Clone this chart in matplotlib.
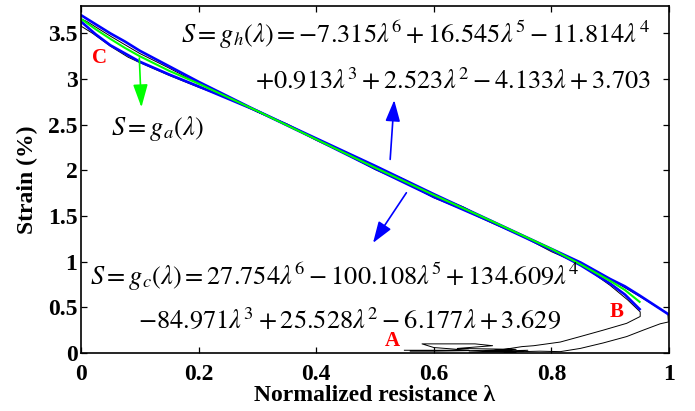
import matplotlib
matplotlib.use("Agg")
import matplotlib.pyplot as plt

plt.rcParams['mathtext.fontset'] = 'stix'
plt.rcParams['font.family'] = ['Liberation Serif', 'DejaVu Serif']

# fitted curve for the heating branch g_h
lam_h = [0, 0.025, 0.05, 0.075, 0.1, 0.15, 0.2, 0.3, 0.4, 0.5, 0.6, 0.7, 0.8, 0.85, 0.9, 0.925, 0.95, 1.0]
strain_h = [3.70, 3.60, 3.50, 3.41, 3.31, 3.14, 2.97, 2.65, 2.35, 2.05, 1.74, 1.44, 1.14, 0.99, 0.81, 0.73, 0.63, 0.42]

# fitted curve for the cooling branch g_c
lam_c = [0, 0.025, 0.05, 0.075, 0.1, 0.15, 0.2, 0.3, 0.4, 0.5, 0.6, 0.7, 0.8, 0.85, 0.9, 0.925, 0.95]
strain_c = [3.63, 3.49, 3.37, 3.28, 3.19, 3.05, 2.92, 2.65, 2.34, 2.02, 1.71, 1.43, 1.13, 0.96, 0.76, 0.64, 0.48]

# average curve g_a
lam_a = [0, 0.025, 0.05, 0.075, 0.1, 0.15, 0.2, 0.3, 0.4, 0.5, 0.6, 0.7, 0.8, 0.85, 0.9, 0.925, 0.95]
strain_a = [3.66, 3.545, 3.44, 3.34, 3.25, 3.09, 2.95, 2.65, 2.34, 2.03, 1.73, 1.44, 1.14, 0.97, 0.79, 0.69, 0.56]

# measured loop A -> (1, 0.4) -> C -> B -> back to A
lam_raw = [0.55, 0.66, 0.60, 0.58, 0.67, 0.70, 0.64, 0.74, 0.70, 0.76, 0.72, 0.78, 0.815,
           0.849, 0.888, 0.928, 0.956, 0.985, 0.999, 0.998,
           0.95, 0.90, 0.85, 0.80, 0.75, 0.70, 0.65, 0.60, 0.55, 0.50, 0.45, 0.40, 0.35,
           0.30, 0.25, 0.20, 0.15, 0.10, 0.05, 0.01, 0.0,
           0.0, 0.02, 0.05, 0.08, 0.10, 0.15, 0.20, 0.25, 0.30, 0.35, 0.40, 0.45, 0.50,
           0.55, 0.60, 0.65, 0.70, 0.75, 0.80, 0.85, 0.90, 0.93, 0.951, 0.951,
           0.928, 0.888, 0.849, 0.815, 0.77, 0.75, 0.72, 0.69, 0.74, 0.66, 0.73, 0.70, 0.60, 0.56]
strain_raw = [0.03, 0.03, 0.06, 0.10, 0.10, 0.08, 0.05, 0.04, 0.02, 0.03, 0.01, 0.02, 0.015,
              0.05, 0.11, 0.18, 0.25, 0.32, 0.34, 0.43,
              0.62, 0.81, 0.99, 1.13, 1.29, 1.43, 1.60, 1.73, 1.90, 2.04, 2.20, 2.34, 2.51,
              2.64, 2.81, 2.95, 3.12, 3.28, 3.47, 3.63, 3.66,
              3.58, 3.50, 3.36, 3.24, 3.18, 3.04, 2.91, 2.79, 2.64, 2.50, 2.33, 2.18, 2.01,
              1.87, 1.70, 1.57, 1.42, 1.28, 1.11, 0.97, 0.74, 0.58, 0.45, 0.40,
              0.325, 0.25, 0.18, 0.12, 0.08, 0.07, 0.04, 0.02, 0.01, 0.01, 0.03, 0.03, 0.02, 0.02]

fig = plt.figure(figsize=(6.95, 4.11), dpi=100)
ax = fig.add_axes([0.1165, 0.1411, 0.8461, 0.8443])

ax.plot(lam_raw, strain_raw, color='black', linewidth=0.7)
ax.plot(lam_h, strain_h, color='#0000ff', linewidth=1.9)
ax.plot(lam_c, strain_c, color='#0000ff', linewidth=1.9)
ax.plot(lam_a, strain_a, color='#00ff00', linewidth=1.5)

# arrows pointing from the equations to the curves
ax.annotate('', xy=(0.103, 2.66), xytext=(0.099, 3.26),
            arrowprops=dict(arrowstyle='-|>,head_length=1.4,head_width=0.45', color='#00ff00', lw=1.2))
ax.annotate('', xy=(0.533, 2.80), xytext=(0.5255, 2.09),
            arrowprops=dict(arrowstyle='-|>,head_length=1.3,head_width=0.45', color='#0000ff', lw=1.2))
ax.annotate('', xy=(0.494, 1.18), xytext=(0.556, 1.78),
            arrowprops=dict(arrowstyle='-|>,head_length=1.3,head_width=0.45', color='#0000ff', lw=1.2))

eq_size = 19
ax.text(0.17, 3.48, r'$S=g_h(\lambda)=-7.315\lambda^6+16.545\lambda^5-11.814\lambda^4$',
        fontsize=eq_size, ha='left', va='center')
ax.text(0.296, 2.99, r'$+0.913\lambda^3+2.523\lambda^2-4.133\lambda+3.703$',
        fontsize=eq_size, ha='left', va='center')
ax.text(0.051, 2.46, r'$S=g_a(\lambda)$', fontsize=eq_size, ha='left', va='center')
ax.text(0.015, 0.83, r'$S=g_c(\lambda)=27.754\lambda^6-100.108\lambda^5+134.609\lambda^4$',
        fontsize=eq_size, ha='left', va='center')
ax.text(0.097, 0.36, r'$-84.971\lambda^3+25.528\lambda^2-6.177\lambda+3.629$',
        fontsize=eq_size, ha='left', va='center')

ax.text(0.032, 3.23, 'C', color='red', fontsize=15, fontweight='bold', ha='center', va='center')
ax.text(0.911, 0.45, 'B', color='red', fontsize=15, fontweight='bold', ha='center', va='center')
ax.text(0.529, 0.13, 'A', color='red', fontsize=15, fontweight='bold', ha='center', va='center')

ax.set_xlim(0, 1)
ax.set_ylim(0, 3.8)
ax.set_xticks([0, 0.2, 0.4, 0.6, 0.8, 1])
ax.set_xticklabels(['0', '0.2', '0.4', '0.6', '0.8', '1'])
ax.set_yticks([0, 0.5, 1, 1.5, 2, 2.5, 3, 3.5])
ax.set_yticklabels(['0', '0.5', '1', '1.5', '2', '2.5', '3', '3.5'])
ax.tick_params(direction='in', top=True, right=True, length=4.5, width=0.9, labelsize=17)
ax.tick_params(axis='x', pad=8)
ax.tick_params(axis='y', pad=2.5)
for lbl in ax.get_xticklabels() + ax.get_yticklabels():
    lbl.set_fontweight('bold')
for sp in ax.spines.values():
    sp.set_linewidth(1.2)

ax.set_xlabel('Normalized resistance λ', fontsize=17, fontweight='bold', labelpad=0)
ax.set_ylabel('Strain (%)', fontsize=17, fontweight='bold', labelpad=7)

fig.savefig('out.png', dpi=100)
